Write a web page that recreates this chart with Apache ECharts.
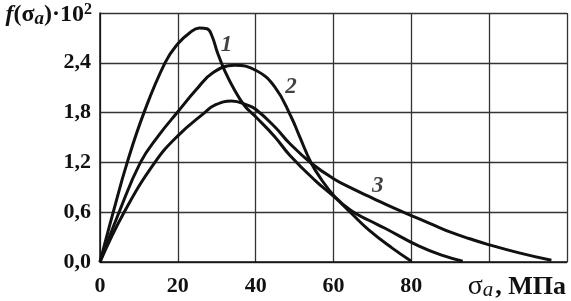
<!DOCTYPE html>
<html>
<head>
<meta charset="utf-8">
<script src="https://cdn.jsdelivr.net/npm/echarts@6/dist/echarts.min.js"></script>
<style>
  html, body { margin: 0; padding: 0; background: #fff; }
  #chart { width: 571px; height: 301px; }
</style>
</head>
<body>
<div id="chart"></div>
<script>
// curve points: [sigma_a, f*10^2]
var curve1 = [[0,0],[3.4,0.6],[7,1.2],[11.3,1.8],[16.7,2.4],[20,2.63],[23,2.76],[25.5,2.82],[27.5,2.81],[28.8,2.72],[30.2,2.52],[32,2.31],[34.6,2.07],[37.2,1.88],[40,1.75],[44.9,1.51],[48.7,1.29],[55.1,0.99],[60.3,0.78],[64.5,0.59],[69.2,0.38],[75,0.17],[80,0.01]];
var curve2 = [[0,0],[4.9,0.6],[10.4,1.2],[15,1.52],[20,1.81],[24.8,2.08],[29,2.28],[34.6,2.37],[40,2.31],[44.9,2.11],[49.1,1.75],[51.3,1.51],[54.3,1.19],[56.8,1.0],[60.3,0.79],[64.5,0.62],[69.2,0.5],[73.1,0.41],[82,0.19],[88,0.08],[93.2,0.01]];
var curve3 = [[0,0],[6.2,0.6],[14.1,1.2],[20,1.52],[26.9,1.8],[29.5,1.89],[33.8,1.94],[37.9,1.89],[40,1.84],[44.9,1.63],[48.7,1.43],[54.3,1.19],[59.8,1.01],[65,0.88],[70,0.77],[75,0.66],[80,0.56],[85,0.46],[90.6,0.35],[95,0.28],[99.8,0.21],[107.7,0.11],[116,0.02]];
var curveLabels = [[32.5,2.61,'1'],[49.1,2.11,'2'],[71.4,0.91,'3']];
var xTicks = ['0','20','40','60','80','',''];

var serif = '"Liberation Serif", "DejaVu Serif", serif';
var chart = echarts.init(document.getElementById('chart'));

function curveSeries(data) {
  return {
    type: 'line',
    data: data,
    smooth: 0.45,
    symbol: 'none',
    lineStyle: { color: '#111', width: 3 },
    z: 3
  };
}

var option = {
  animation: false,
  backgroundColor: '#fff',
  grid: { left: 100, top: 13, right: 4, bottom: 39 },
  xAxis: {
    type: 'value',
    min: 0, max: 120, interval: 20,
    name: '{s|σ}{a|a}{t|, МПа}',
    nameLocation: 'end',
    nameGap: 0,
    nameTextStyle: {
      align: 'right', verticalAlign: 'top', padding: [11, 1, 0, 0],
      rich: {
        s: { fontFamily: serif, fontSize: 28, color: '#111' },
        a: { fontFamily: serif, fontSize: 21, fontStyle: 'italic', color: '#111', verticalAlign: 'bottom', padding: [7, 2, 0, 0] },
        t: { fontFamily: serif, fontSize: 26, fontWeight: 'bold', color: '#111' }
      }
    },
    axisLine: { show: true, lineStyle: { color: '#111', width: 1.5 } },
    axisTick: { show: false },
    axisLabel: {
      margin: 13,
      fontFamily: serif, fontSize: 22, fontWeight: 'bold', color: '#111',
      formatter: function (v) { return xTicks[Math.round(v / 20)]; }
    },
    splitLine: { show: true, lineStyle: { color: '#333', width: 1.3 } }
  },
  yAxis: {
    type: 'value',
    min: 0, max: 3, interval: 0.6,
    name: '{f|f}{b|(σ}{a|a}{b|)·10}{e|2}',
    nameLocation: 'end',
    nameGap: -2,
    nameTextStyle: {
      align: 'right', verticalAlign: 'middle', padding: [0, 8, 0, 0],
      rich: {
        f: { fontFamily: serif, fontSize: 24, fontStyle: 'italic', fontWeight: 'bold', color: '#111' },
        b: { fontFamily: serif, fontSize: 24, fontWeight: 'bold', color: '#111' },
        a: { fontFamily: serif, fontSize: 19, fontStyle: 'italic', fontWeight: 'bold', color: '#111', verticalAlign: 'bottom', padding: [8, 0, 0, 0] },
        e: { fontFamily: serif, fontSize: 16, fontWeight: 'bold', color: '#111', verticalAlign: 'top', padding: [0, 0, 9, 0] }
      }
    },
    axisLine: { show: true, lineStyle: { color: '#111', width: 1.5 } },
    axisTick: { show: false },
    axisLabel: {
      margin: 9,
      fontFamily: serif, fontSize: 22, fontWeight: 'bold', color: '#111',
      formatter: function (v) {
        if (v > 2.9) return '';
        return v.toFixed(1).replace('.', ',');
      }
    },
    splitLine: { show: true, lineStyle: { color: '#333', width: 1.3 } }
  },
  series: [
    curveSeries(curve1),
    curveSeries(curve2),
    curveSeries(curve3),
    {
      type: 'scatter',
      data: curveLabels,
      symbolSize: 0,
      z: 4,
      label: {
        show: true,
        position: 'inside',
        formatter: function (p) { return p.value[2]; },
        fontFamily: serif, fontSize: 23, fontStyle: 'italic', fontWeight: 'bold', color: '#111'
      }
    }
  ]
};

chart.setOption(option);
</script>
</body>
</html>
